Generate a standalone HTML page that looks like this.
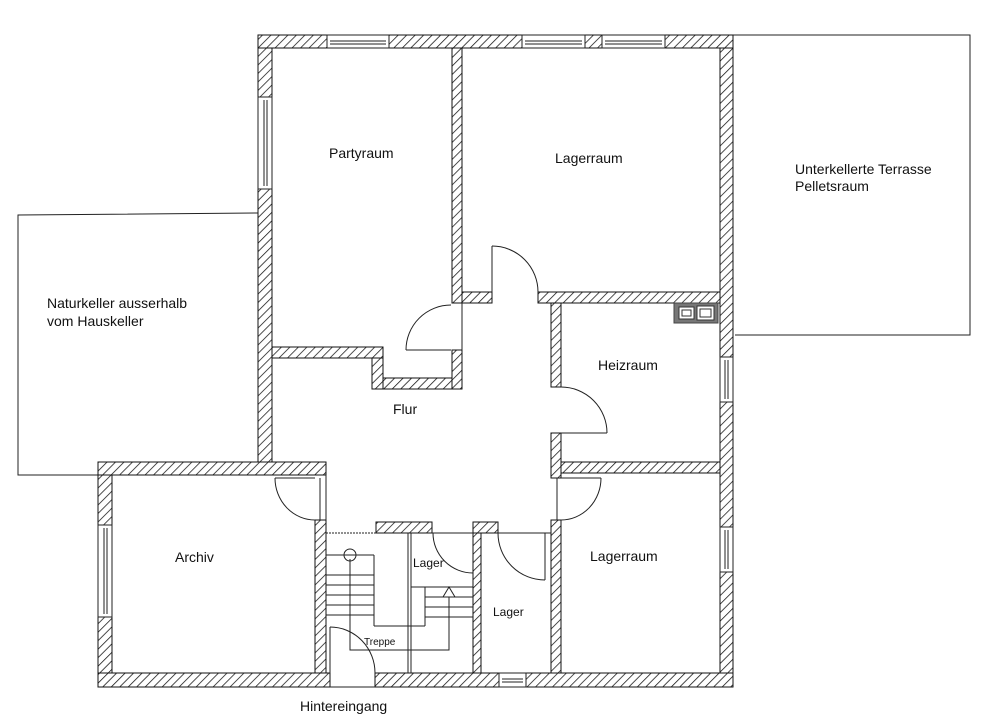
<!DOCTYPE html>
<html><head><meta charset="utf-8"><style>
html,body{margin:0;padding:0;background:#fff}
svg{display:block}
text{font-family:"Liberation Sans",sans-serif;font-size:14px;fill:#111}
</style></head><body>
<svg width="1000" height="725" viewBox="0 0 1000 725" xmlns="http://www.w3.org/2000/svg">
<defs>
<pattern id="h" patternUnits="userSpaceOnUse" width="6" height="6" patternTransform="rotate(45)">
<rect width="6" height="6" fill="#fff"/>
<line x1="0" y1="0" x2="0" y2="6" stroke="#111" stroke-width="1.5"/>
</pattern>
</defs>
<g fill="none" stroke="#222" stroke-width="1">
<polyline points="733,35 970,35 970,335 735,335"/>
<polyline points="258,213 18,215 18,475 100,475"/>
</g>
<g fill="url(#h)" stroke="#111" stroke-width="1">
<rect x="258" y="35" width="69" height="13"/>
<rect x="389" y="35" width="133" height="13"/>
<rect x="585" y="35" width="17" height="13"/>
<rect x="665" y="35" width="68" height="13"/>
<rect x="258" y="48" width="14" height="49"/>
<rect x="258" y="189" width="14" height="273"/>
<rect x="452" y="48" width="10" height="255"/>
<rect x="462" y="292" width="30" height="11"/>
<rect x="538" y="292" width="182" height="11"/>
<rect x="720" y="48" width="13" height="309"/>
<rect x="720" y="402" width="13" height="125"/>
<rect x="720" y="572" width="13" height="115"/>
<rect x="452" y="350" width="10" height="39"/>
<rect x="272" y="347" width="111" height="11"/>
<rect x="372" y="358" width="11" height="31"/>
<rect x="383" y="378" width="69" height="11"/>
<rect x="551" y="303" width="10" height="84"/>
<rect x="551" y="433" width="10" height="45"/>
<rect x="551" y="520" width="10" height="153"/>
<rect x="561" y="462" width="159" height="11"/>
<rect x="98" y="462" width="228" height="13"/>
<rect x="98" y="475" width="14" height="50"/>
<rect x="98" y="617" width="14" height="56"/>
<rect x="315" y="520" width="11" height="153"/>
<rect x="98" y="673" width="232" height="14"/>
<rect x="375" y="673" width="124" height="14"/>
<rect x="526" y="673" width="207" height="14"/>
<rect x="376" y="522" width="56" height="11"/>
<rect x="473" y="522" width="25" height="11"/>
<rect x="473" y="533" width="8" height="140"/>
</g>
<g fill="#fff" stroke="#222" stroke-width="1">
<rect x="327" y="35" width="62" height="13"/><line x1="330" y1="41" x2="386" y2="41"/><line x1="330" y1="44" x2="386" y2="44"/>
<rect x="522" y="35" width="63" height="13"/><line x1="525" y1="41" x2="582" y2="41"/><line x1="525" y1="44" x2="582" y2="44"/>
<rect x="602" y="35" width="63" height="13"/><line x1="605" y1="41" x2="662" y2="41"/><line x1="605" y1="44" x2="662" y2="44"/>
<rect x="258" y="97" width="14" height="92"/><line x1="264" y1="100" x2="264" y2="186"/><line x1="267" y1="100" x2="267" y2="186"/>
<rect x="720" y="357" width="13" height="45"/><line x1="725" y1="360" x2="725" y2="399"/><line x1="728" y1="360" x2="728" y2="399"/>
<rect x="720" y="527" width="13" height="45"/><line x1="725" y1="530" x2="725" y2="569"/><line x1="728" y1="530" x2="728" y2="569"/>
<rect x="98" y="525" width="14" height="92"/><line x1="104" y1="528" x2="104" y2="614"/><line x1="107" y1="528" x2="107" y2="614"/>
<rect x="499" y="673" width="27" height="14"/><line x1="502" y1="679" x2="523" y2="679"/><line x1="502" y1="682" x2="523" y2="682"/>
<line x1="330" y1="687" x2="375" y2="687"/>
</g>
<rect x="674" y="303" width="44" height="20" fill="#777" stroke="#444"/>
<rect x="679" y="307" width="15" height="12" fill="#fff" stroke="#333"/>
<rect x="682" y="310" width="9" height="6" fill="none" stroke="#333"/>
<rect x="697" y="306" width="17" height="14" fill="#fff" stroke="#333"/>
<rect x="700" y="309" width="11" height="8" fill="none" stroke="#333"/>
<g fill="none" stroke="#222" stroke-width="1">
<line x1="492" y1="246" x2="492" y2="292"/><path d="M492,246 A46,46 0 0 1 538,292"/>
<line x1="406" y1="350" x2="451" y2="350"/><path d="M406,350 A45,45 0 0 1 451,305"/>
<line x1="462" y1="303" x2="462" y2="350"/>
<line x1="561" y1="433" x2="607" y2="433"/><path d="M561,387 A46,46 0 0 1 607,433"/>
<line x1="561" y1="478" x2="601" y2="478"/><path d="M601,478 A40,42 0 0 1 561,520"/>
<line x1="557" y1="478" x2="557" y2="520"/>
<path d="M275,478 A40,42 0 0 0 315,520"/><line x1="275" y1="478" x2="315" y2="478"/>
<line x1="320" y1="478" x2="320" y2="520"/>
<path d="M433,533 A40,40 0 0 0 473,573"/>
<path d="M498,533 A47,47 0 0 0 545,580"/><line x1="545" y1="533" x2="545" y2="580"/>
<line x1="432" y1="533" x2="473" y2="533"/><line x1="498" y1="533" x2="551" y2="533"/>
<line x1="330" y1="627" x2="330" y2="673"/><path d="M330,627 A45,46 0 0 1 375,673"/>
<line x1="326" y1="475" x2="326" y2="520"/>
<line x1="326" y1="533" x2="376" y2="533" stroke-dasharray="2,1"/>
<line x1="408" y1="533" x2="408" y2="673"/><line x1="411" y1="533" x2="411" y2="673"/>
<line x1="326" y1="555" x2="374" y2="555"/>
<line x1="326" y1="575" x2="374" y2="575"/>
<line x1="326" y1="585" x2="374" y2="585"/>
<line x1="326" y1="595" x2="374" y2="595"/>
<line x1="326" y1="605" x2="374" y2="605"/>
<line x1="326" y1="615" x2="374" y2="615"/>
<line x1="374" y1="555" x2="374" y2="626"/>
<line x1="374" y1="626" x2="425" y2="626"/>
<line x1="425" y1="587" x2="425" y2="626"/>
<line x1="411" y1="587" x2="473" y2="587"/>
<line x1="425" y1="597" x2="473" y2="597"/>
<line x1="425" y1="607" x2="473" y2="607"/>
<line x1="425" y1="617" x2="473" y2="617"/>
<polyline points="350,559 350,650 449,650 449,597"/>
<circle cx="350" cy="555" r="6"/>
<polygon points="449,587 443,597 455,597"/>
</g>
<text x="329" y="158">Partyraum</text>
<text x="555" y="163">Lagerraum</text>
<text x="795" y="174">Unterkellerte Terrasse</text>
<text x="795" y="191">Pelletsraum</text>
<text x="47" y="308">Naturkeller ausserhalb</text>
<text x="47" y="326">vom Hauskeller</text>
<text x="598" y="370">Heizraum</text>
<text x="393" y="414">Flur</text>
<text x="175" y="562">Archiv</text>
<text x="413" y="567" style="font-size:12px">Lager</text>
<text x="493" y="616" style="font-size:12px">Lager</text>
<text x="590" y="561">Lagerraum</text>
<text x="364" y="645" style="font-size:10px">Treppe</text>
<text x="300" y="711">Hintereingang</text>
</svg>
</body></html>
